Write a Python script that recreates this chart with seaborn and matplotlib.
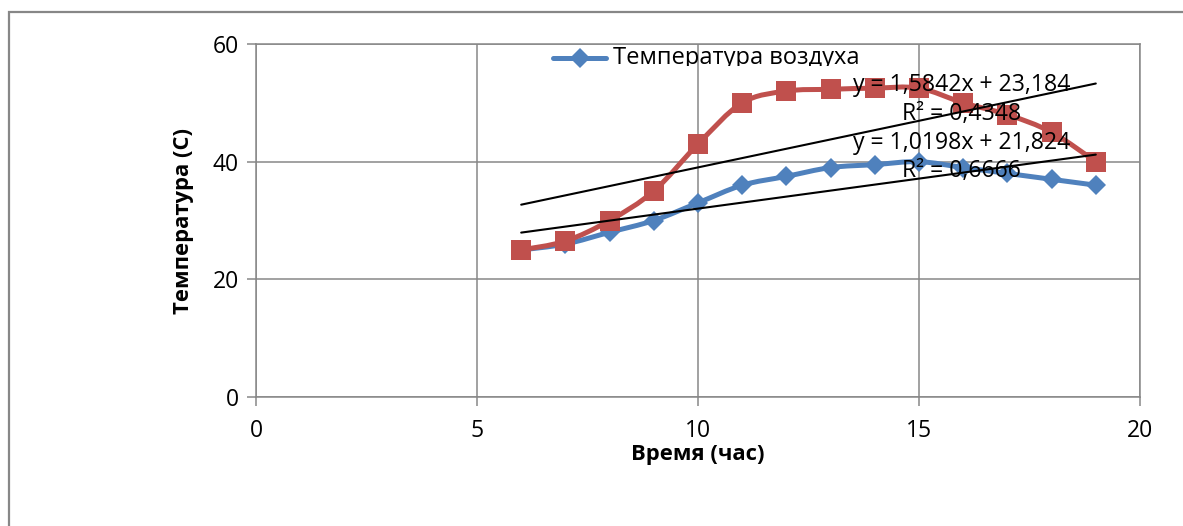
import matplotlib
matplotlib.use("Agg")
import matplotlib.pyplot as plt
from matplotlib.patches import Rectangle, PathPatch
from matplotlib.path import Path
from matplotlib.transforms import Bbox, TransformedBbox
import numpy as np
import pandas as pd
import seaborn as sns

# Hours of the day
hours = [6, 7, 8, 9, 10, 11, 12, 13, 14, 15, 16, 17, 18, 19]
# Air temperature, °C
air_temp = [25, 26, 28, 30, 33, 36, 37.5, 39, 39.5, 40, 39, 38, 37, 36]
# Second measured temperature, °C
surface_temp = [25, 26.5, 30, 35, 43, 50, 52, 52.3, 52.5, 52.5, 50, 48, 45, 40]

# Linear trend coefficients (slope, intercept, R²)
air_trend = (1.0198, 21.824, 0.6666)
surface_trend = (1.5842, 23.184, 0.4348)

legend_label = "Температура воздуха"
x_label = "Время (час)"
y_label = "Температура (C)"
x_ticks = [0, 5, 10, 15, 20]
y_ticks = [0, 20, 40, 60]

BLUE = "#4F81BD"
RED = "#C0504D"
GRID = "#878787"

sns.set_style("white")
plt.rcParams["font.family"] = ["Open Sans", "DejaVu Sans"]
plt.rcParams["text.color"] = "black"
plt.rcParams["axes.labelcolor"] = "black"
plt.rcParams["xtick.color"] = "black"
plt.rcParams["ytick.color"] = "black"

fig = plt.figure(figsize=(11.83, 5.26), dpi=100)
W, H = 1183, 526
ax = fig.add_axes([256 / W, 1 - 397 / H, (1140 - 256) / W, (397 - 44) / H])

df = pd.DataFrame({"hour": hours, "air": air_temp, "surface": surface_temp})


def smooth_path(xs, ys):
    """Smoothed polyline through the points (Catmull-Rom as cubic Bezier)."""
    p = np.column_stack([xs, ys]).astype(float)
    ext = np.vstack([p[:1], p, p[-1:]])
    verts = [p[0]]
    codes = [Path.MOVETO]
    for i in range(len(p) - 1):
        p0, p1, p2, p3 = ext[i], ext[i + 1], ext[i + 2], ext[i + 3]
        verts += [p1 + (p2 - p0) / 6, p2 - (p3 - p1) / 6, p2]
        codes += [Path.CURVE4] * 3
    return Path(verts, codes)


for col, color, z in (("air", BLUE, 3), ("surface", RED, 4)):
    ax.add_patch(PathPatch(smooth_path(df["hour"], df[col]), fill=False,
                           edgecolor=color, linewidth=3.6, joinstyle="round",
                           capstyle="round", zorder=z))

sns.lineplot(data=df, x="hour", y="air", ax=ax, color=BLUE, linewidth=0,
             marker="D", markersize=10.5, markeredgewidth=0, sort=False,
             estimator=None, zorder=3)
sns.lineplot(data=df, x="hour", y="surface", ax=ax, color=RED, linewidth=0,
             marker="s", markersize=14, markeredgewidth=0, sort=False,
             estimator=None, zorder=4)

# Trend lines over the measured hour range
xr = np.array([hours[0], hours[-1]], dtype=float)
for slope, intercept, _ in (surface_trend, air_trend):
    ax.plot(xr, slope * xr + intercept, color="black", linewidth=1.5, zorder=5)


def fmt(v, nd):
    return f"{v:.{nd}f}".replace(".", ",")


eq_size = 16.6
for (slope, intercept, r2), ycen in ((surface_trend, 50.55), (air_trend, 40.8)):
    txt = f"y = {fmt(slope, 4)}x + {fmt(intercept, 3)}\nR² = {fmt(r2, 4)}"
    ax.text(15.97, ycen, txt, ha="center", va="center", multialignment="center",
            fontsize=eq_size, linespacing=1.25, color="black", zorder=6)

# Legend entry, cut off at its lower edge
clip = TransformedBbox(Bbox([[0, 0.939], [1, 1]]), ax.transAxes)
key_y = 57.6
ax.plot([6.72, 7.92], [key_y, key_y], color=BLUE, linewidth=3.6, zorder=6,
        clip_on=False)
ax.plot([7.32], [key_y], color=BLUE, marker="D", markersize=10.5,
        markeredgewidth=0, zorder=6, clip_on=False)
t = ax.text(8.08, key_y, legend_label, ha="left", va="center",
            fontsize=17, color="black", zorder=6)
t.set_clip_box(clip)
t.set_clip_on(True)

ax.set_xlim(0, 20)
ax.set_ylim(0, 60)
ax.set_xticks(x_ticks)
ax.set_yticks(y_ticks)
ax.grid(True, color=GRID, linewidth=1.1)
ax.set_axisbelow(True)
for s in ax.spines.values():
    s.set_color(GRID)
    s.set_linewidth(1.1)
ax.tick_params(axis="both", direction="out", length=6.5, width=1.1, color=GRID,
               labelsize=16.5, labelcolor="black", left=True, bottom=True)
ax.tick_params(axis="y", pad=6)
ax.tick_params(axis="x", pad=9)
ax.set_xlabel(x_label, fontsize=15.8, fontweight="bold", labelpad=1)
ax.set_ylabel(y_label, fontsize=15.8, fontweight="bold", labelpad=13)

# Outer chart frame
fig.add_artist(Rectangle((9 / W, -0.1), 1.2, 1.1 - 12 / H, transform=fig.transFigure,
                         fill=False, edgecolor=GRID, linewidth=1.6))

fig.savefig("out.png", dpi=100)
